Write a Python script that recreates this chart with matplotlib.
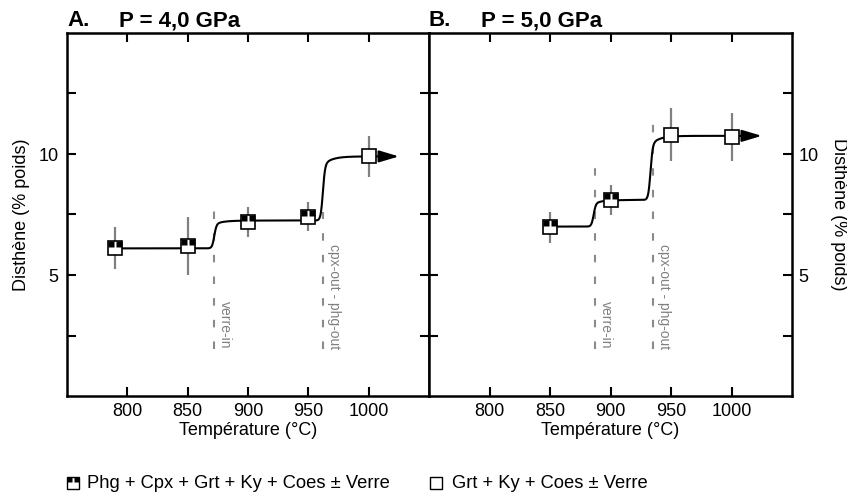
import numpy as np
import matplotlib
matplotlib.use('Agg')
import matplotlib.pyplot as plt
from matplotlib.path import Path
from matplotlib.lines import Line2D

plt.rcParams['font.family'] = ['Liberation Sans', 'DejaVu Sans']

# ---------------- data ----------------
temps_A = [790, 850, 900, 950, 1000]
ky_A = [6.12, 6.2, 7.19, 7.4, 9.9]
err_A = [0.86, 1.18, 0.64, 0.6, 0.85]
phg_A = [True, True, True, True, False]
levels_A = [6.1, 7.25, 9.9]
steps_A = [872, 962]
dash_x_A = [872, 962]
dash_top_A = [7.9, 7.6]

temps_B = [850, 900, 950, 1000]
ky_B = [6.98, 8.1, 10.8, 10.7]
err_B = [0.64, 0.63, 1.1, 1.0]
phg_B = [True, True, False, False]
levels_B = [7.0, 8.1, 10.75]
steps_B = [886, 933]
dash_x_B = [887, 935]
dash_top_B = [9.5, 11.4]

dash_labels = ['verre-in', 'cpx-out - phg-out']
dash_bottom = 1.95
titles = [('A.', 'P = 4,0 GPa'), ('B.', 'P = 5,0 GPa')]
xticks = [800, 850, 900, 950, 1000]
yticks = [2.5, 5, 7.5, 10, 12.5]
ylabels_shown = {5: '5', 10: '10'}
legend_labels = ['Phg + Cpx + Grt + Ky + Coes \u00b1 Verre', 'Grt + Ky + Coes \u00b1 Verre']
arrow_end = 1025

# ---------------- helpers ----------------
half_path = Path(
    [(-1, 0.2), (-0.12, 0.2), (-0.12, 1), (-1, 1), (-1, 0.2),
     (0.12, 0.2), (1, 0.2), (1, 1), (0.12, 1), (0.12, 0.2)],
    [Path.MOVETO, Path.LINETO, Path.LINETO, Path.LINETO, Path.CLOSEPOLY,
     Path.MOVETO, Path.LINETO, Path.LINETO, Path.LINETO, Path.CLOSEPOLY])

MS = 10.5
GRAY = '#808080'
FS = 13


def smooth_steps(x, levels, steps, w1=0.9, w2=7.0, frac=0.86):
    """Sharp riser followed by a rounded shoulder for each transition."""
    y = np.full_like(x, levels[0], dtype=float)
    for i, s in enumerate(steps):
        h = levels[i + 1] - levels[i]
        sharp = 1 / (1 + np.exp(-(x - s) / w1))
        tail = sharp * (1 - np.exp(-np.clip(x - s, 0, None) / w2))
        y += h * (frac * sharp + (1 - frac) * tail)
    return y


def panel(ax, temps, ky, err, phg, levels, steps, dx, dtop, title, side):
    ax.set_xlim(750, 1050)
    ax.set_ylim(0, 15)
    # dashed lines
    for x, top, lab in zip(dx, dtop, dash_labels):
        ax.plot([x, x], [dash_bottom, top], color='#8a8a8a', lw=1.5,
                linestyle=(0, (3.6, 6.8)), zorder=1)
        ax.annotate(lab, xy=(x, dash_bottom), xytext=(3.0, 0),
                    textcoords='offset points', rotation=270,
                    ha='left', va='bottom', fontsize=10, color=GRAY)
    # error bars
    ax.errorbar(temps, ky, yerr=err, fmt='none', ecolor=GRAY, elinewidth=1.6,
                capsize=0, zorder=2)
    # curve
    xs = np.linspace(temps[0], arrow_end - 14, 1500)
    ax.plot(xs, smooth_steps(xs, levels, steps), color='black', lw=1.5, zorder=3)
    ax.annotate('', xy=(arrow_end, levels[-1]), xytext=(arrow_end - 16, levels[-1]),
                arrowprops=dict(arrowstyle='-|>,head_length=0.6,head_width=0.18',
                                mutation_scale=20, color='black', lw=1.5,
                                shrinkA=0, shrinkB=0), zorder=3)
    # markers
    ax.plot(temps, ky, 's', ms=MS, mfc='white', mec='black', mew=1.2,
            linestyle='none', zorder=4)
    tp = [t for t, p in zip(temps, phg) if p]
    kp = [k for k, p in zip(ky, phg) if p]
    ax.plot(tp, kp, marker=half_path, ms=MS, mfc='black', mec='none',
            linestyle='none', zorder=5)
    # axes styling
    for sp in ax.spines.values():
        sp.set_linewidth(1.8)
    ax.set_xticks(xticks)
    ax.set_yticks(yticks)
    ax.set_yticklabels([ylabels_shown.get(t, '') for t in yticks])
    ax.tick_params(axis='both', direction='in', length=6.5, width=1.5,
                   labelsize=FS, top=True, right=True, left=True, bottom=True)
    ax.tick_params(axis='x', pad=5)
    ax.tick_params(axis='y', pad=6)
    if side == 'left':
        ax.tick_params(axis='y', labelleft=True, labelright=False)
    else:
        ax.tick_params(axis='y', labelleft=False, labelright=True, pad=4.5)
    ax.text(0, 1.019, title[0], transform=ax.transAxes, fontsize=16,
            fontweight='bold', va='baseline', ha='left')
    ax.text(0.144, 1.019, title[1], transform=ax.transAxes, fontsize=16,
            fontweight='bold', va='baseline', ha='left')


fig = plt.figure(figsize=(8.47, 4.94), dpi=100)
W, H = 847, 494
bottom = 1 - 396 / H
height = (396 - 33) / H
axA = fig.add_axes([67 / W, bottom, (429 - 67) / W, height])
axB = fig.add_axes([429 / W, bottom, (792 - 429) / W, height])

panel(axA, temps_A, ky_A, err_A, phg_A, levels_A, steps_A, dash_x_A, dash_top_A,
      titles[0], 'left')
panel(axB, temps_B, ky_B, err_B, phg_B, levels_B, steps_B, dash_x_B, dash_top_B,
      titles[1], 'right')

ycen = 1 - 214.5 / H
fig.text(22 / W, ycen, 'Disth\u00e8ne (% poids)', rotation=90, ha='center',
         va='center', fontsize=FS)
fig.text(838 / W, ycen, 'Disth\u00e8ne (% poids)', rotation=270, ha='center',
         va='center', fontsize=FS)
fig.text(248 / W, 1 - 430 / H, 'Temp\u00e9rature (\u00b0C)', ha='center',
         va='center', fontsize=FS)
fig.text(610.5 / W, 1 - 430 / H, 'Temp\u00e9rature (\u00b0C)', ha='center',
         va='center', fontsize=FS)

# legend
ly = 1 - 483 / H
for mx, tx, lab, half in [(73, 87, legend_labels[0], True),
                          (436, 452, legend_labels[1], False)]:
    fig.add_artist(Line2D([mx / W], [ly], marker='s', ms=8.6, mfc='white',
                          mec='black', mew=1.0, linestyle='none',
                          transform=fig.transFigure))
    if half:
        fig.add_artist(Line2D([mx / W], [ly], marker=half_path, ms=8.6,
                              mfc='black', mec='none', linestyle='none',
                              transform=fig.transFigure))
    fig.text(tx / W, ly, lab, ha='left', va='center', fontsize=13.2)

fig.savefig('out.png', dpi=100)
